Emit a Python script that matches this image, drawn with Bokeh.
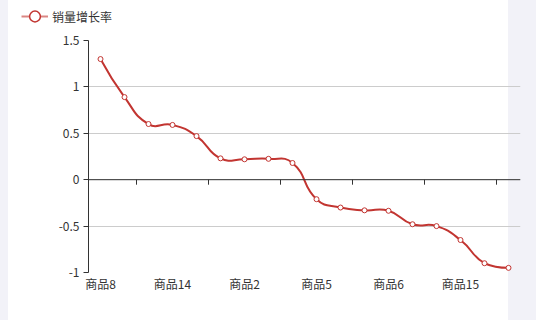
import math
from bokeh.plotting import figure
from bokeh.layouts import column
from bokeh.models import (Range1d, FixedTicker, Span, Legend, LegendItem,
                          ColumnDataSource)
from bokeh.embed import file_html
from bokeh.resources import INLINE

# ---- data ----
categories = ["商品8", "商品3", "商品11", "商品14", "商品7", "商品9",
              "商品2", "商品12", "商品16", "商品5", "商品1", "商品10",
              "商品6", "商品4", "商品13", "商品15", "商品17", "商品18"]
growth = [1.30, 0.89, 0.60, 0.59, 0.47, 0.23, 0.22, 0.225, 0.18,
          -0.21, -0.30, -0.33, -0.335, -0.48, -0.50, -0.65, -0.90, -0.95]
y_ticks = [-1, -0.5, 0, 0.5, 1, 1.5]
y_tick_labels = ["-1", "-0.5", "0", "0.5", "1", "1.5"]
label_every = 3
series_name = "销量增长率"

RED = "#c23531"
FONT = "Noto Sans CJK SC"
TXT = "#333333"
BG = "#f2f2f8"

W = 536
LEG_H = 32
MAIN_H = 288

p = figure(width=W, height=MAIN_H, output_backend="svg", toolbar_location=None,
           x_range=Range1d(-0.5, len(categories) - 0.5),
           y_range=Range1d(y_ticks[0], y_ticks[-1]),
           min_border_left=88, min_border_right=16, min_border_top=8,
           min_border_bottom=48)
p.border_fill_color = None
p.background_fill_color = None
p.outline_line_color = None
p.frame_align = False

# grid
p.xgrid.visible = False
p.ygrid.ticker = FixedTicker(ticks=y_ticks)
p.ygrid.grid_line_color = "#cccccc"

# y axis
ya = p.yaxis[0]
ya.ticker = FixedTicker(ticks=y_ticks)
ya.major_label_overrides = {t: l for t, l in zip(y_ticks, y_tick_labels)}
ya.axis_line_color = TXT
ya.major_tick_line_color = TXT
ya.major_tick_out = 5
ya.major_tick_in = 0
ya.minor_tick_line_color = None
ya.major_label_standoff = 4
ya.major_label_text_font = FONT
ya.major_label_text_font_size = "12px"
ya.major_label_text_color = TXT

# x axis (labels only, at bottom)
label_idx = list(range(0, len(categories), label_every))
xa = p.xaxis[0]
xa.ticker = FixedTicker(ticks=label_idx)
xa.major_label_overrides = {i: categories[i] for i in label_idx}
xa.axis_line_color = None
xa.major_tick_line_color = None
xa.minor_tick_line_color = None
xa.major_tick_out = 0
xa.major_label_standoff = 2
xa.major_label_text_font = FONT
xa.major_label_text_font_size = "12px"
xa.major_label_text_color = TXT

# zero axis line with ticks at band boundaries
p.add_layout(Span(location=0, dimension="width", line_color=TXT, line_width=1))
tick_x = [i + label_every - 1.5 for i in label_idx]
tick_len = 5 * (y_ticks[-1] - y_ticks[0]) / 232
p.segment(x0=tick_x, y0=[0] * len(tick_x), x1=tick_x,
          y1=[-tick_len] * len(tick_x), line_color=TXT, line_width=1)

# smooth line (ECharts 4 style bezier smoothing, computed in pixel space)
kx = 24.0
ky = 232.0 / (y_ticks[-1] - y_ticks[0])


def smooth_segments(xs, ys, smooth=0.5):
    px = [x * kx for x in xs]
    py = [y * ky for y in ys]
    n = len(px)
    mnx, mxx, mny, mxy = min(px), max(px), min(py), max(py)

    def clamp(cx, cy):
        return (min(max(cx, mnx), mxx), min(max(cy, mny), mxy))

    segs = []
    cp0 = (px[0], py[0])
    for i in range(1, n):
        x, y = px[i], py[i]
        prevX, prevY = px[i - 1], py[i - 1]
        if i == n - 1:
            cp1 = (x, y)
            ncp0 = None
        else:
            nextX, nextY = px[i + 1], py[i + 1]
            vx = nextX - prevX
            vy = nextY - prevY
            lenPrev = math.hypot(x - prevX, y - prevY)
            lenNext = math.hypot(nextX - x, nextY - y)
            ratio = lenNext / (lenNext + lenPrev)
            cp1 = (x - vx * smooth * (1 - ratio), y - vy * smooth * (1 - ratio))
            ncp0 = (x + vx * smooth * ratio, y + vy * smooth * ratio)
        c0 = clamp(*cp0)
        c1 = clamp(*cp1)
        segs.append((prevX, prevY, c0[0], c0[1], c1[0], c1[1], x, y))
        cp0 = ncp0
    return segs


xs = list(range(len(categories)))
segs = smooth_segments(xs, growth)
bz = ColumnDataSource(dict(
    x0=[s[0] / kx for s in segs], y0=[s[1] / ky for s in segs],
    cx0=[s[2] / kx for s in segs], cy0=[s[3] / ky for s in segs],
    cx1=[s[4] / kx for s in segs], cy1=[s[5] / ky for s in segs],
    x1=[s[6] / kx for s in segs], y1=[s[7] / ky for s in segs]))
p.bezier(x0="x0", y0="y0", x1="x1", y1="y1", cx0="cx0", cy0="cy0",
         cx1="cx1", cy1="cy1", source=bz, line_color=RED, line_width=2)

src = ColumnDataSource(dict(x=xs, y=growth, name=categories))
p.scatter(x="x", y="y", source=src, size=5, marker="circle",
          fill_color="white", line_color=RED, line_width=1)

# legend strip (separate small figure so the legend is not clipped);
# proxy renderers use the series data but lie outside this strip's ranges
lf = figure(width=W, height=LEG_H, output_backend="svg", toolbar_location=None,
            x_range=Range1d(-1000, -999), y_range=Range1d(-1000, -999),
            min_border=0)
lf.axis.visible = False
lf.grid.visible = False
lf.outline_line_color = None
lf.border_fill_color = None
lf.background_fill_color = None
lf.frame_align = False
leg_line = lf.line(x="x", y="y", source=src, line_color=RED, line_width=2,
                   line_alpha=0.6)
leg_pt = lf.scatter(x="x", y="y", source=src, size=12, marker="circle",
                    fill_color="white", line_color=RED, line_width=1.5)
legend = Legend(items=[LegendItem(label=series_name,
                                  renderers=[leg_line, leg_pt])],
                location=(21, 2), orientation="horizontal",
                padding=0, margin=0, spacing=0,
                glyph_width=27, glyph_height=28, label_height=28,
                label_standoff=4, border_line_color=None,
                background_fill_color=None,
                label_text_font=FONT, label_text_font_size="12px",
                label_text_color=TXT)
lf.add_layout(legend)

page = column(lf, p, spacing=0,
              styles={"background": f"linear-gradient(to right, {BG} 0px, {BG} 8px, "
                                    f"#ffffff 8px, #ffffff 508px, {BG} 508px, {BG} 100%)"})

open("out.html", "w").write(file_html(page, INLINE))
